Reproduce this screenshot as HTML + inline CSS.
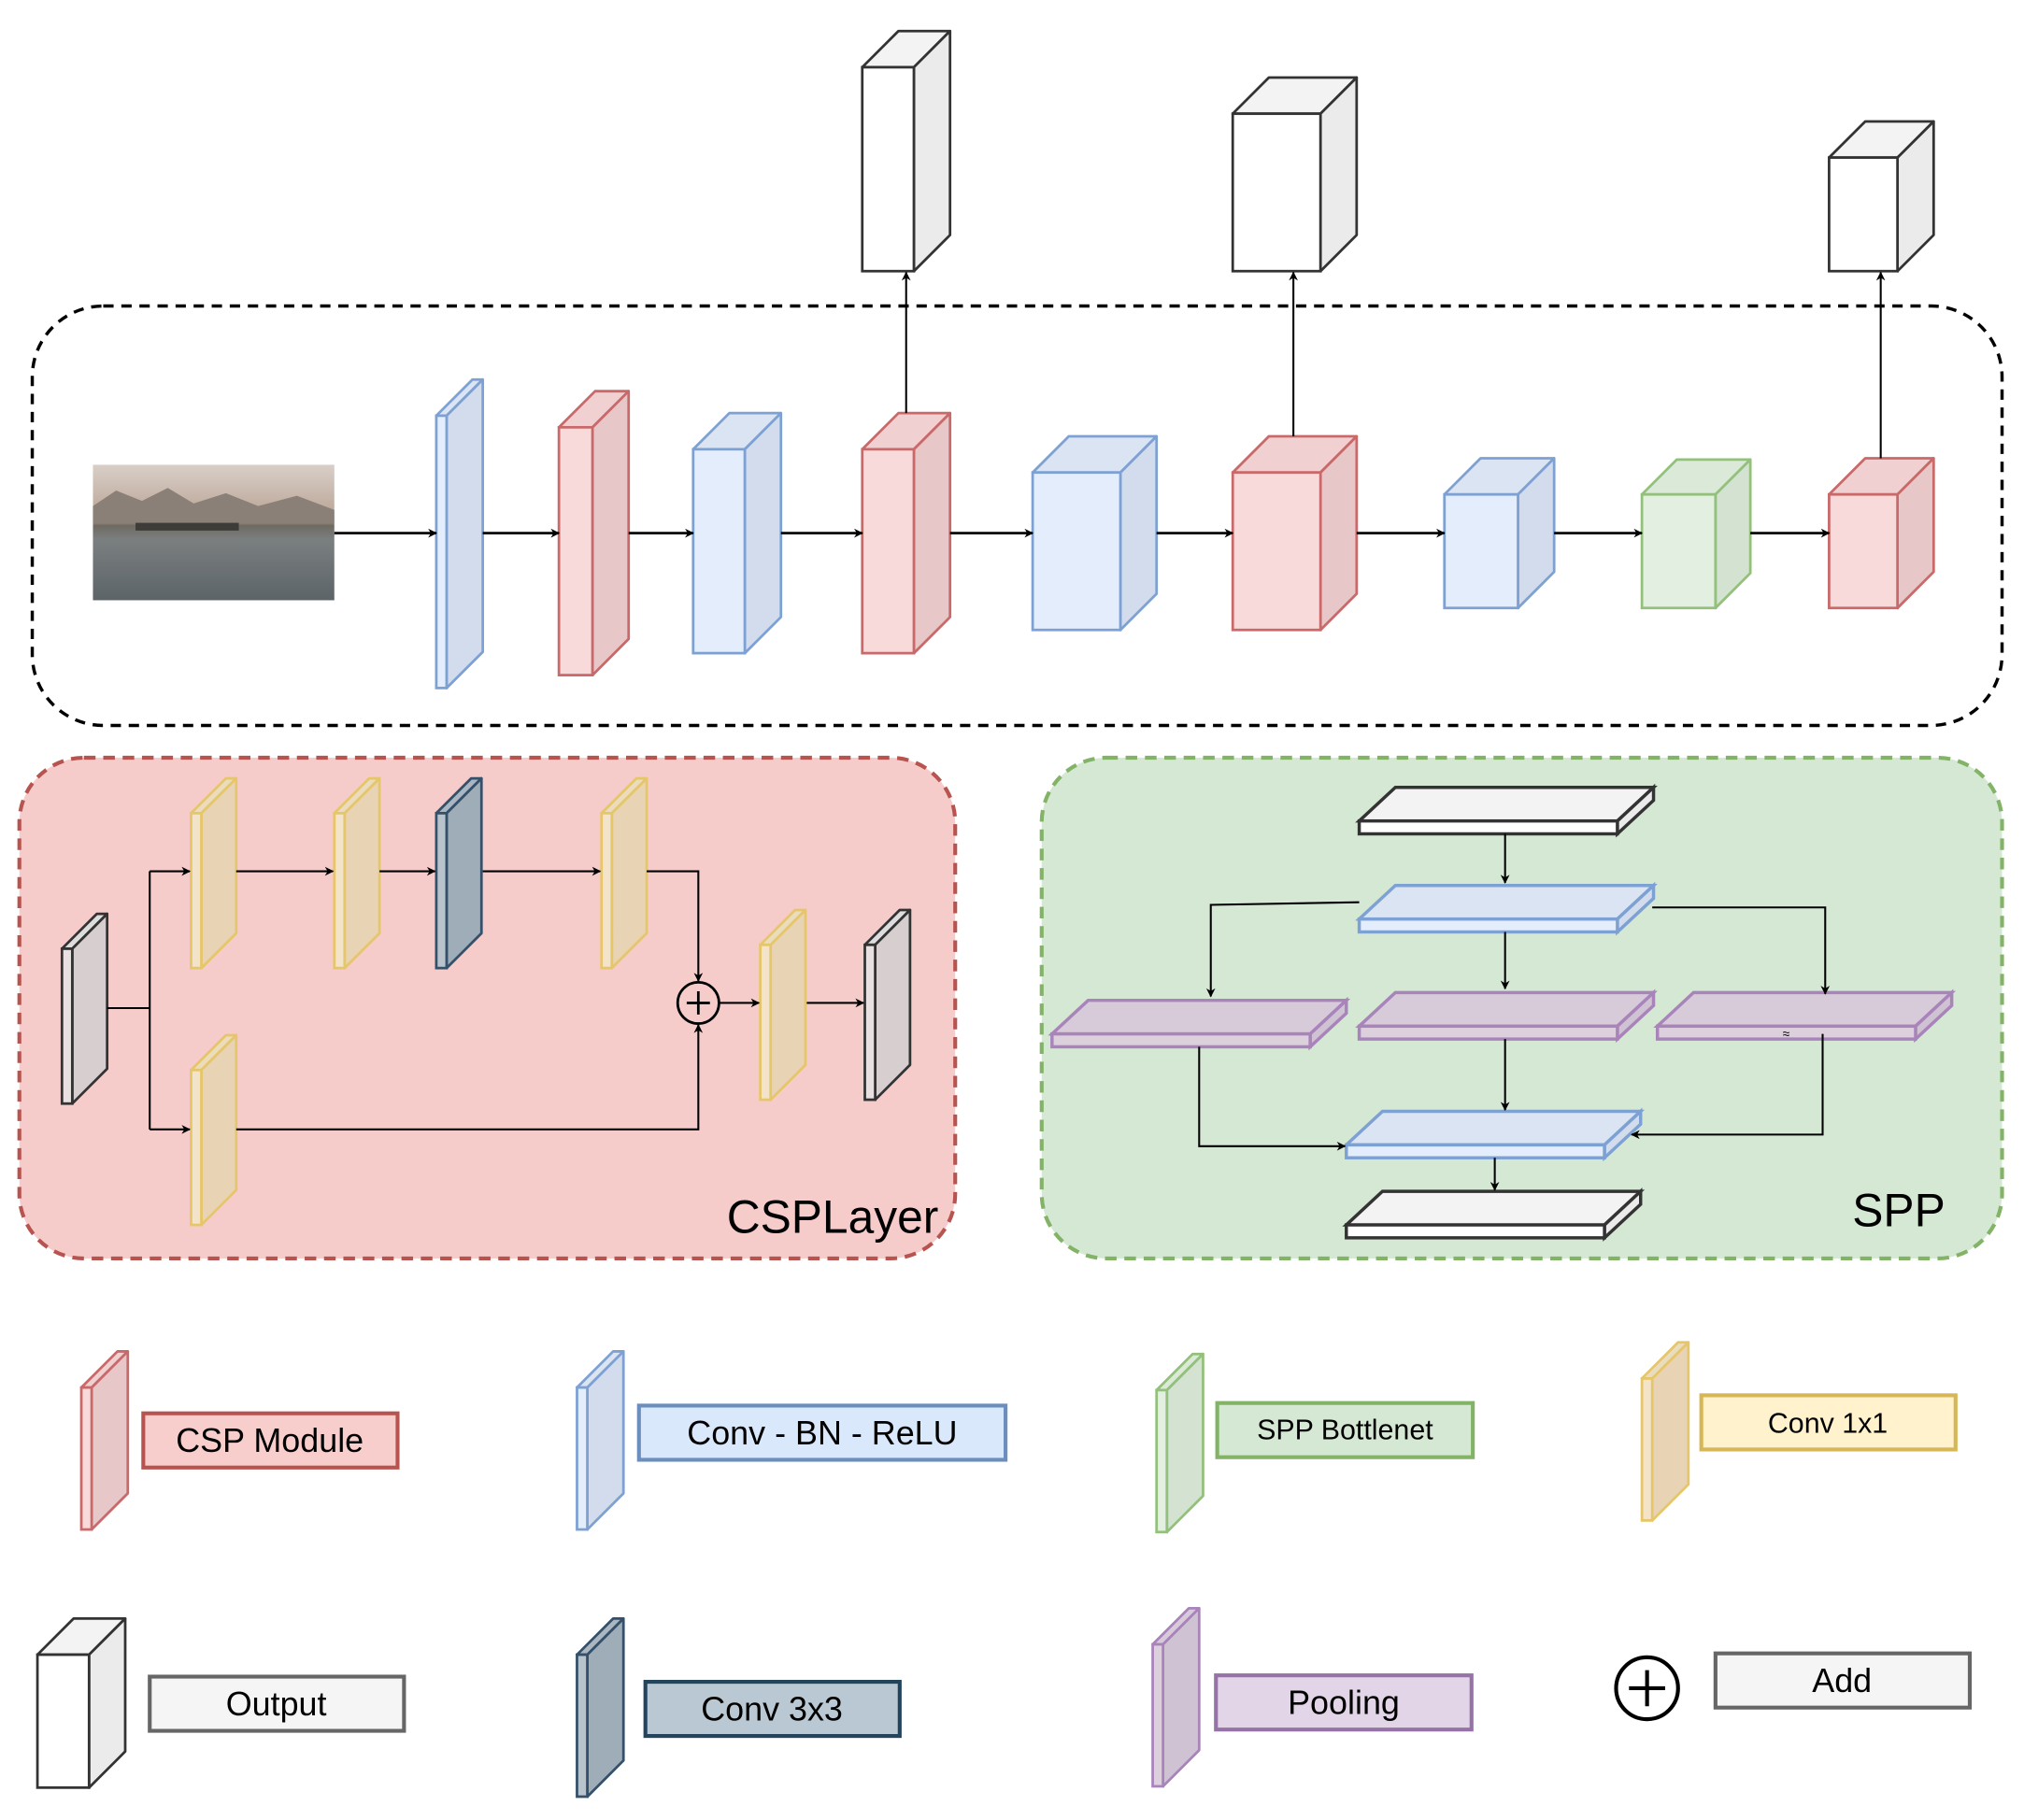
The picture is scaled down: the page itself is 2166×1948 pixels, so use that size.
<!DOCTYPE html>
<html><head><meta charset="utf-8"><style>
html,body{margin:0;padding:0;background:#fff;}
svg{display:block}
text{font-family:"Liberation Sans",sans-serif;}
</style></head><body>
<svg id="s" width="2166" height="1948" viewBox="0 0 1568 1410" xmlns="http://www.w3.org/2000/svg">
<defs>
<marker id="ah" viewBox="0 0 10 10" refX="9" refY="5" markerWidth="7" markerHeight="7" orient="auto-start-reverse" markerUnits="userSpaceOnUse"><path d="M0,0 L10,5 L0,10 L3,5 Z" fill="#000"/></marker>
<linearGradient id="sky" x1="0" y1="0" x2="0" y2="1"><stop offset="0" stop-color="#d9cfc8"/><stop offset="0.4" stop-color="#b9a394"/><stop offset="0.45" stop-color="#6e6a62"/><stop offset="0.55" stop-color="#7b7f80"/><stop offset="1" stop-color="#5c6468"/></linearGradient>
</defs>
<!-- panels -->
<rect x="25" y="237" width="1526" height="325" rx="55" fill="none" stroke="#000" stroke-width="2.5" stroke-dasharray="8,6"/>
<rect x="15" y="587" width="725" height="388" rx="50" fill="#f6cccb" stroke="#b85450" stroke-width="3" stroke-dasharray="9,6"/>
<rect x="807" y="587" width="744" height="388" rx="50" fill="#d5e8d4" stroke="#82b366" stroke-width="3" stroke-dasharray="9,6"/>
<text x="563" y="955" font-size="36">CSPLayer</text>
<text x="1435" y="950" font-size="36">SPP</text>
<!-- image -->
<rect x="72" y="360" width="187" height="105" fill="url(#sky)"/>
<path d="M72,392 L90,380 L110,388 L130,378 L150,390 L175,382 L200,392 L230,384 L259,395 L259,405 L72,405 Z" fill="#8a8078"/>
<rect x="105" y="405" width="80" height="6" fill="#3e3c38"/>
<g id="g"></g>
<!-- legend -->
<g stroke-width="3">
<rect x="111" y="1095" width="197" height="42" fill="#f8cecc" stroke="#b85450"/>
<rect x="495" y="1089" width="284" height="42" fill="#dae8fc" stroke="#6c8ebf"/>
<rect x="943" y="1087" width="198" height="42" fill="#d5e8d4" stroke="#82b366"/>
<rect x="1318" y="1081" width="197" height="42" fill="#fff2cc" stroke="#d6b656"/>
<rect x="116" y="1299" width="197" height="42" fill="#f5f5f5" stroke="#666"/>
<rect x="500" y="1303" width="197" height="42" fill="#bac8d3" stroke="#23445d"/>
<rect x="942" y="1298" width="198" height="42" fill="#e1d5e7" stroke="#9673a6"/>
<rect x="1329" y="1281" width="197" height="42" fill="#f5f5f5" stroke="#666"/>
</g>
<g font-size="26" text-anchor="middle">
<text x="209" y="1125">CSP Module</text>
<text x="637" y="1119">Conv - BN - ReLU</text>
<text x="1042" y="1115" font-size="22">SPP Bottlenet</text>
<text x="1416" y="1110" font-size="22">Conv 1x1</text>
<text x="214" y="1329">Output</text>
<text x="598" y="1333">Conv 3x3</text>
<text x="1041" y="1328">Pooling</text>
<text x="1427" y="1311">Add</text>
</g>
<circle cx="1276" cy="1308" r="24" fill="none" stroke="#000" stroke-width="3"/>
<path d="M1262,1308 H1290 M1276,1294 V1322" stroke="#000" stroke-width="3"/>
<circle cx="541" cy="777" r="16" fill="none" stroke="#000" stroke-width="2"/>
<path d="M532,777 H550 M541,768 V786" stroke="#000" stroke-width="2"/>
<text x="1381" y="804" font-size="10">≈</text>
</svg>
<script>
var g=document.getElementById('g'),NS='http://www.w3.org/2000/svg';
function el(t,a){var e=document.createElementNS(NS,t);for(var k in a)e.setAttribute(k,a[k]);g.appendChild(e);return e;}
var C={b:['#e3edfb','#d2dcec','#dae4f3','#7ea1d3'],r:['#f9dada','#e8c7c8','#f0d0d0','#c9696a'],gr:['#e3efe1','#d3e2d1','#dbe9d9','#93c07a'],y:['#f3e3c8','#e8d4b4','#ecdcbe','#e6c66a'],p:['#ddd0dd','#cfc2d2','#d8cbd9','#a884bb'],d:['#b8c3cc','#9fadb9','#aab7c2','#34506a'],w:['#ffffff','#ebebeb','#f3f3f3','#333'],wi:['#e9e1e1','#d7cfcf','#ddd','#333']};
function box(x,y,w,h,d,c,sw){var k=C[c];sw=sw||2;
el('polygon',{points:[x,y,x+d,y-d,x+w+d,y-d,x+w,y].join(' '),fill:k[2],stroke:k[3],'stroke-width':sw,'stroke-linejoin':'round'});
el('polygon',{points:[x+w,y,x+w+d,y-d,x+w+d,y+h-d,x+w,y+h].join(' '),fill:k[1],stroke:k[3],'stroke-width':sw,'stroke-linejoin':'round'});
el('rect',{x:x,y:y,width:w,height:h,fill:k[0],stroke:k[3],'stroke-width':sw});}
function slab(x,y,w,h,dx,dy,c){var k=C[c];
el('polygon',{points:[x,y,x+dx,y-dy,x+w+dx,y-dy,x+w,y].join(' '),fill:k[2],stroke:k[3],'stroke-width':2.5});
el('polygon',{points:[x+w,y,x+w+dx,y-dy,x+w+dx,y+h-dy,x+w,y+h].join(' '),fill:k[1],stroke:k[3],'stroke-width':2.5});
el('rect',{x:x,y:y,width:w,height:h,fill:k[0],stroke:k[3],'stroke-width':2.5});}
function ln(p,arrow,sw){el('polyline',{points:p.join(' '),fill:'none',stroke:arrow===2?'#555':'#000','stroke-width':sw||1.5,'marker-end':arrow?'url(#ah)':''});}
// top outputs
box(668,52,40,158,28,'w');box(955,88,68,122,28,'w');box(1417,122,53,88,28,'w');
// backbone
box(338,322,8,211,28,'b');box(433,331,26,192,28,'r');box(537,348,40,158,28,'b');box(668,348,40,158,28,'r');
box(800,366,68,122,28,'b');box(955,366,68,122,28,'r');box(1119,383,57,88,28,'b');box(1272,383,57,88,27,'gr');box(1417,383,53,88,28,'r');
[[259,338],[374,433],[487,537],[605,668],[736,800],[896,955],[1051,1119],[1204,1272],[1356,1417]].forEach(function(a){ln([a[0],413,a[1],413],1,2);});
ln([702,320,702,211],1);ln([1002,338,1002,211],1);ln([1457,355,1457,211],1);
// CSP
box(48,735,8,120,27,'wi');box(148,630,8,120,27,'y');box(259,630,8,120,27,'y');box(338,630,8,120,27,'d');box(466,630,8,120,27,'y');
box(589,732,8,120,27,'y');box(670,732,8,120,27,'wi');box(148,829,8,120,27,'y');
ln([83,781,116,781]);ln([116,675,116,875]);ln([116,675,147,675],1);ln([116,875,147,875],1);
ln([183,675,258,675],1);ln([294,675,337,675],1);ln([374,675,465,675],1);ln([501,675,541,675,541,760],1);
ln([183,875,541,875,541,794],1);ln([557,777,588,777],1);ln([625,777,669,777],1);
// SPP
slab(1053,636,200,10,28,26,'w');slab(1053,712,200,10,28,26,'b');
slab(815,801,200,10,28,26,'p');slab(1053,795,200,10,28,26,'p');slab(1284,795,200,10,28,26,'p');
slab(1043,887,200,10,28,26,'b');slab(1043,949,200,10,28,26,'w');
ln([1166,646,1166,684],1);ln([1166,722,1166,766],1);ln([1053,699,938,701,938,772],1);ln([1280,703,1414,703,1414,770],1);
ln([1166,805,1166,860],1);ln([929,811,929,888,1042,888],1);ln([1412,801,1412,879,1264,879],1);ln([1158,897,1158,922],1);
// legend icons
box(63,1075,8,110,28,'r');box(447,1075,8,110,28,'b');box(896,1077,8,110,28,'gr');box(1272,1068,8,110,28,'y');
box(29,1282,40,103,28,'w');box(447,1282,8,110,28,'d');box(893,1274,8,110,28,'p');
</script>
</body></html>
